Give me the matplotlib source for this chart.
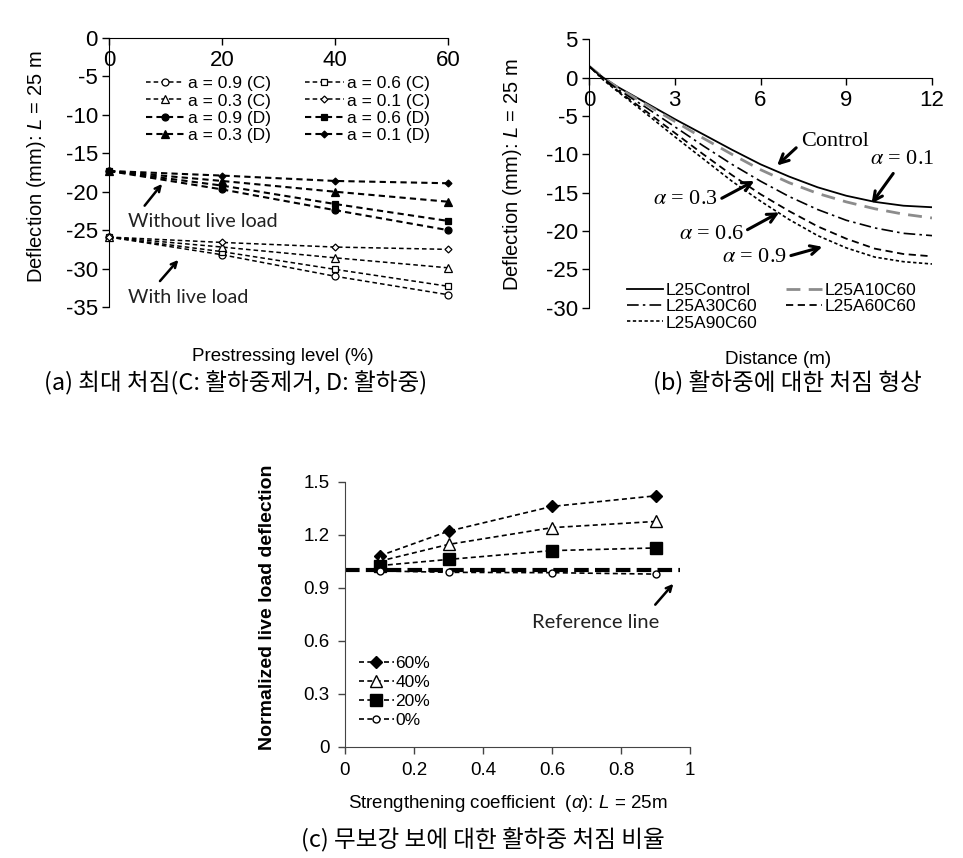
import matplotlib
matplotlib.use("Agg")
import matplotlib.pyplot as plt

plt.rcParams['font.family'] = ['Liberation Sans', 'DejaVu Sans']
plt.rcParams['axes.unicode_minus'] = False
plt.rcParams['mathtext.fontset'] = 'custom'
plt.rcParams['mathtext.rm'] = 'Liberation Sans'
plt.rcParams['mathtext.it'] = 'Liberation Sans:italic'

W, H = 963, 858

# ---- (a) maximum deflection vs prestressing level ----
prestress = [0, 20, 40, 60]
a_labels = ['a = 0.9 (C)', 'a = 0.6 (C)', 'a = 0.3 (C)', 'a = 0.1 (C)',
            'a = 0.9 (D)', 'a = 0.6 (D)', 'a = 0.3 (D)', 'a = 0.1 (D)']
a_values = [
    [-25.9, -28.2, -31.0, -33.4],
    [-25.9, -27.8, -30.1, -32.3],
    [-25.9, -27.2, -28.6, -29.9],
    [-25.9, -26.6, -27.2, -27.5],
    [-17.3, -19.7, -22.4, -25.0],
    [-17.3, -19.2, -21.6, -23.8],
    [-17.3, -18.6, -20.0, -21.3],
    [-17.3, -17.9, -18.6, -18.9],
]
a_markers = ['o', 's', '^', 'D', 'o', 's', '^', 'D']
a_msize = [5, 5, 5.5, 3.5, 5, 5, 5.5, 3.5]

# ---- (b) deflected shape under live load ----
distance = [0, 0.5, 1, 2, 3, 4, 5, 6, 7, 8, 9, 10, 11, 12]
b_labels = ['L25Control', 'L25A10C60', 'L25A30C60', 'L25A60C60', 'L25A90C60']
b_values = [
    [1.5, 0.0, -1.2, -3.3, -5.4, -7.4, -9.4, -11.3, -12.9, -14.3, -15.4, -16.2, -16.7, -16.9],
    [1.5, 0.0, -1.3, -3.5, -5.7, -7.9, -10.0, -12.0, -13.7, -15.1, -16.2, -17.1, -17.8, -18.3],
    [1.5, -0.1, -1.5, -3.9, -6.4, -8.9, -11.3, -13.5, -15.5, -17.2, -18.6, -19.6, -20.3, -20.6],
    [1.5, -0.2, -1.7, -4.4, -7.2, -10.0, -12.7, -15.2, -17.4, -19.4, -21.0, -22.3, -23.0, -23.3],
    [1.5, -0.3, -1.8, -4.7, -7.7, -10.6, -13.5, -16.1, -18.5, -20.6, -22.2, -23.4, -24.0, -24.3],
]
b_colors = ['black', '#8c8c8c', 'black', 'black', 'black']
b_styles = ['-', (0, (5, 3)), (0, (7, 2.5, 1.5, 2.5)), (0, (4, 2.5)), (0, (2, 1.5))]
b_widths = [1.3, 2.0, 1.2, 1.3, 1.2]

# ---- (c) normalized live load deflection ----
alpha = [0.1, 0.3, 0.6, 0.9]
c_labels = ['60%', '40%', '20%', '0%']
c_values = [
    [1.08, 1.22, 1.36, 1.42],
    [1.05, 1.145, 1.24, 1.275],
    [1.025, 1.06, 1.11, 1.125],
    [0.995, 0.987, 0.985, 0.977],
]
c_markers = ['D', '^', 's', 'o']
c_face = ['black', 'white', 'black', 'white']
c_msize = [6.5, 8.5, 8, 5]


def ax_rect(x0, y0, x1, y1):
    return [x0 / W, 1 - y1 / H, (x1 - x0) / W, (y1 - y0) / H]


def ftext(x, y, s, **kw):
    fig.text(x / W, 1 - y / H, s, ha='center', va='center', **kw)


fig = plt.figure(figsize=(W / 100, H / 100), dpi=100)

# ---------------- panel a ----------------
ax = fig.add_axes(ax_rect(109, 38, 448, 307))
for i, lab in enumerate(a_labels):
    filled = i >= 4
    ax.plot(prestress, a_values[i], color='black', ls=(0, (3, 2)),
            lw=1.5 if filled else 1.1, marker=a_markers[i], ms=a_msize[i],
            mfc='black' if filled else 'white', mec='black', mew=0.9,
            label=lab, clip_on=False, zorder=3)
ax.set_xlim(0, 60)
ax.set_ylim(-35, 0)
ax.set_xticks([0, 20, 40, 60])
ax.set_yticks(range(-35, 1, 5))
ax.spines['bottom'].set_position(('data', 0))
ax.spines['top'].set_visible(False)
ax.spines['right'].set_visible(False)
ax.tick_params(labelsize=16, length=5, width=1, pad=3)
ax.tick_params(axis='x', pad=4)
h, l = ax.get_legend_handles_labels()
order = [0, 2, 4, 6, 1, 3, 5, 7]
ax.legend([h[k] for k in order], [l[k] for k in order], ncol=2,
          frameon=False, fontsize=12.5, loc='upper left',
          bbox_to_anchor=(146 / W, 1 - 76 / H), bbox_transform=fig.transFigure,
          borderpad=0, borderaxespad=0, labelspacing=0.13, handlelength=2.2,
          handletextpad=0.2, columnspacing=2.0)
ax.annotate('', xy=(9.7, -18.7), xytext=(6.0, -22.1),
            arrowprops=dict(arrowstyle='->', lw=1.8, color='black'))
ax.annotate('', xy=(12.6, -28.6), xytext=(8.7, -31.9),
            arrowprops=dict(arrowstyle='->', lw=1.8, color='black'))
ax.text(3.4, -23.9, 'Without live load', fontsize=14.2, family='Lato',
        va='center', ha='left', color='#222222')
ax.text(3.4, -33.7, 'With live load', fontsize=14.2, family='Lato',
        va='center', ha='left', color='#222222')

ftext(37, 167, 'Deflection (mm): $\\mathit{L}$ = 25 m', fontsize=14.5, rotation=90)
ftext(283, 357, 'Prestressing level (%)', fontsize=13.5)

# ---------------- panel b ----------------
bx = fig.add_axes(ax_rect(589, 39.3, 932, 307.7))
for i, lab in enumerate(b_labels):
    bx.plot(distance, b_values[i], color=b_colors[i], ls=b_styles[i],
            lw=b_widths[i], label=lab)
bx.set_xlim(0, 12)
bx.set_ylim(-30, 5)
bx.set_xticks([0, 3, 6, 9, 12])
bx.set_yticks(range(-30, 6, 5))
bx.spines['bottom'].set_position(('data', 0))
bx.spines['top'].set_visible(False)
bx.spines['right'].set_visible(False)
bx.tick_params(labelsize=16, length=5, width=1, pad=3)
bx.tick_params(axis='x', pad=4)
h, l = bx.get_legend_handles_labels()
order = [0, 2, 4, 1, 3]
bx.legend([h[k] for k in order], [l[k] for k in order], ncol=2,
          frameon=False, fontsize=12.5, loc='upper left',
          bbox_to_anchor=(627 / W, 1 - 283 / H), bbox_transform=fig.transFigure,
          borderpad=0, borderaxespad=0, labelspacing=0.06, handlelength=2.1,
          handletextpad=0.15, columnspacing=1.6)

arrow = dict(arrowstyle='->', lw=2.2, color='black', mutation_scale=16)
serif = dict(family='Liberation Serif', fontsize=16, va='center', ha='left')
bx.text(7.43, -8.3, 'Control', **serif)
bx.annotate('', xy=(6.51, -11.7), xytext=(7.32, -8.9), arrowprops=arrow)
bx.text(9.83, -10.65, '$\\alpha$ = 0.1', math_fontfamily='stix', **serif)
bx.annotate('', xy=(9.83, -16.7), xytext=(10.7, -12.2), arrowprops=arrow)
bx.text(2.25, -15.9, '$\\alpha$ = 0.3', math_fontfamily='stix', **serif)
bx.annotate('', xy=(5.87, -13.3), xytext=(4.56, -15.9), arrowprops=arrow)
bx.text(3.15, -20.4, '$\\alpha$ = 0.6', math_fontfamily='stix', **serif)
bx.annotate('', xy=(6.74, -17.4), xytext=(5.46, -20.0), arrowprops=arrow)
bx.text(4.64, -23.5, '$\\alpha$ = 0.9', math_fontfamily='stix', **serif)
bx.annotate('', xy=(8.26, -21.96), xytext=(6.97, -23.3), arrowprops=arrow)

ftext(513, 175, 'Deflection (mm): $\\mathit{L}$ = 25 m', fontsize=14.5, rotation=90)
ftext(778, 360, 'Distance (m)', fontsize=13.5)

# ---------------- panel c ----------------
cx = fig.add_axes(ax_rect(345, 481.7, 690, 746.7))
cx.plot([0, 0.97], [1.0, 1.0], color='black', lw=3, ls=(0, (3.5, 1.5)), zorder=2)
for i, lab in enumerate(c_labels):
    cx.plot(alpha, c_values[i], color='black', ls=(0, (3, 2)), lw=1.2,
            marker=c_markers[i], ms=c_msize[i], mfc=c_face[i], mec='black',
            mew=1.0, label=lab, zorder=3)
cx.set_xlim(0, 1)
cx.set_ylim(0, 1.5)
cx.set_xticks([0, 0.2, 0.4, 0.6, 0.8, 1])
cx.set_xticklabels(['0', '0.2', '0.4', '0.6', '0.8', '1'])
cx.set_yticks([0, 0.3, 0.6, 0.9, 1.2, 1.5])
cx.set_yticklabels(['0', '0.3', '0.6', '0.9', '1.2', '1.5'])
cx.spines['top'].set_visible(False)
cx.spines['right'].set_visible(False)
cx.spines['left'].set_color('#444444')
cx.spines['bottom'].set_color('#444444')
cx.tick_params(labelsize=13.5, length=5, width=1, pad=6, color='#444444')
cx.legend(frameon=False, fontsize=12.5, loc='upper left',
          bbox_to_anchor=(359 / W, 1 - 656 / H), bbox_transform=fig.transFigure,
          borderpad=0, borderaxespad=0, labelspacing=0.22, handlelength=2.0,
          handletextpad=0.1)
cx.text(0.541, 0.702, 'Reference line', fontsize=14.5, family='Lato',
        va='center', ha='left', color='#222222')
cx.annotate('', xy=(0.957, 0.934), xytext=(0.894, 0.792),
            arrowprops=dict(arrowstyle='->', lw=1.8, color='black'))

ftext(268, 607, 'Normalized live load deflection', fontsize=14, rotation=90,
      fontweight='bold')
ftext(508, 803, 'Strengthening coefficient  ($\\alpha$): $\\mathit{L}$ = 25m',
      fontsize=13.5)

# ---------------- captions ----------------
kr = ['Noto Sans CJK KR', 'DejaVu Sans']
ftext(236, 383, '(a) 최대 처짐(C: 활하중제거, D: 활하중)', fontsize=17, family=kr)
ftext(787, 383, '(b) 활하중에 대한 처짐 형상', fontsize=17, family=kr)
ftext(483, 840, '(c) 무보강 보에 대한 활하중 처짐 비율', fontsize=17, family=kr)

fig.savefig('out.png', dpi=100)
